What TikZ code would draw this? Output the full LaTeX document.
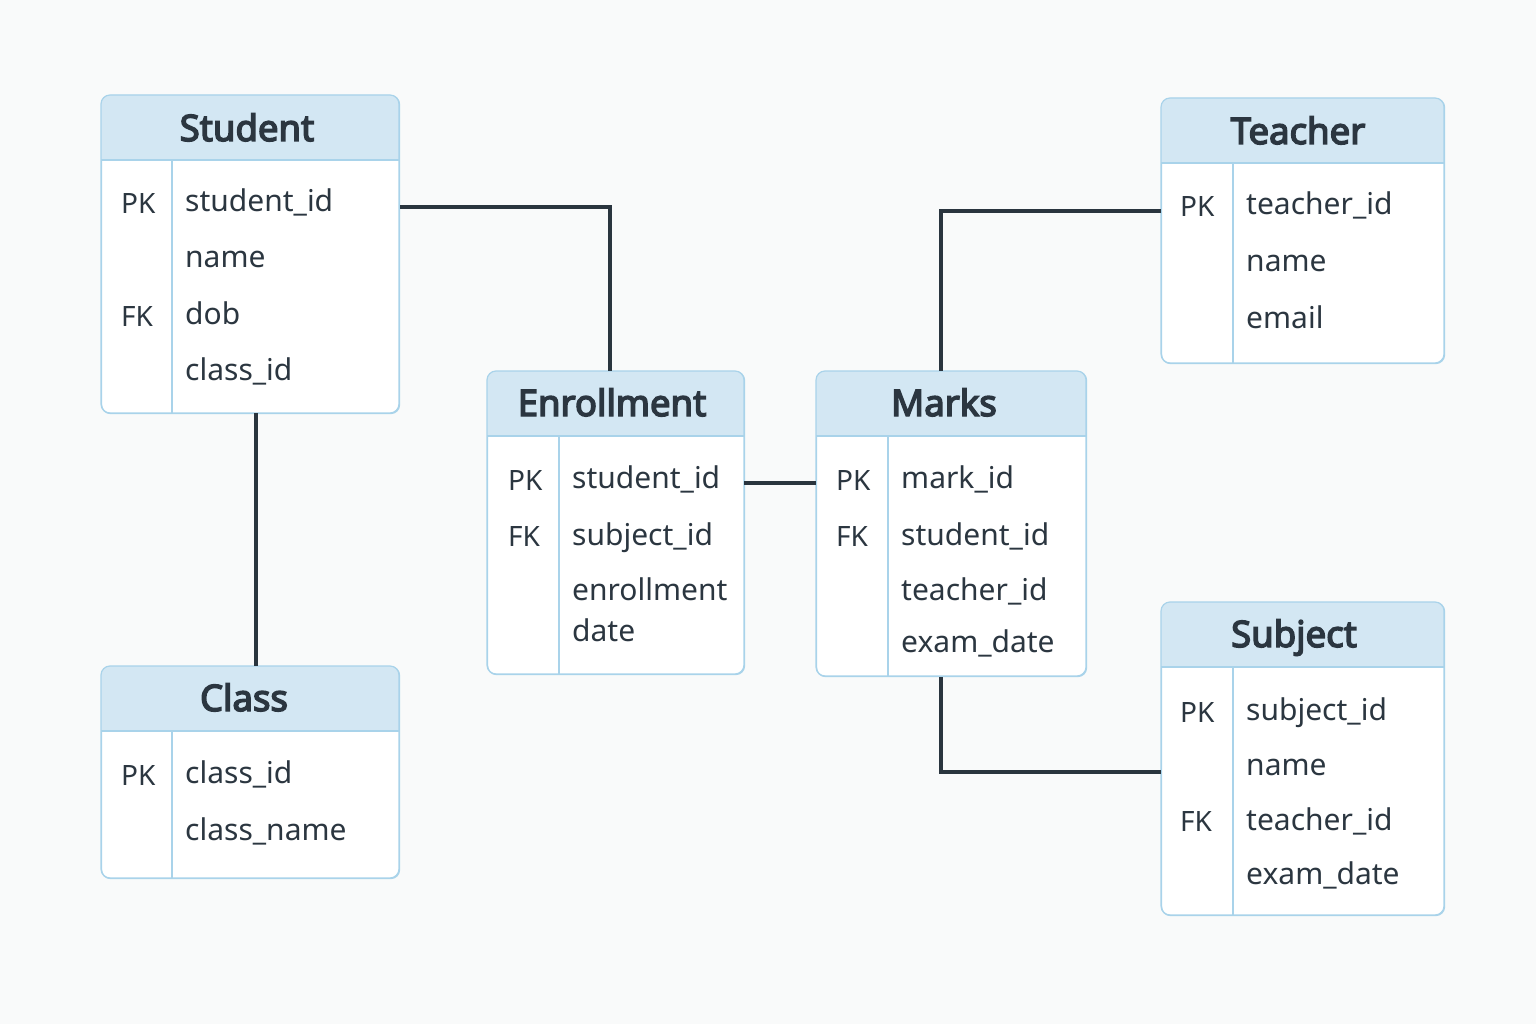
\documentclass[tikz,border=0pt]{standalone}
\usepackage{fontspec}
\setmainfont{Noto Sans}
\newfontfamily\ttlfont{Noto Sans}[FakeBold=4]
\definecolor{bgcol}{HTML}{F9FAFA}
\definecolor{headcol}{HTML}{D3E7F3}
\definecolor{bordercol}{HTML}{A9D3EA}
\definecolor{txt}{HTML}{2B3640}
\definecolor{linecol}{HTML}{2A353E}
\tikzset{
  tbl/.style={draw=bordercol, line width=1.2pt, fill=white, rounded corners=9pt, inner sep=0pt, anchor=north west},
  ttl/.style={font=\fontsize{36.5}{42}\ttlfont, text=txt, inner sep=0pt, anchor=base},
  keytxt/.style={font=\fontsize{28}{34}\selectfont, text=txt, anchor=base west, inner sep=0pt},
  fld/.style={font=\fontsize{30}{36}\selectfont, text=txt, anchor=base west, inner sep=0pt},
  conn/.style={draw=linecol, line width=3.2pt},
  sep/.style={draw=bordercol, line width=1.2pt},
}
% #1 name, #2 x1, #3 y1, #4 x2, #5 y2, #6 divider x
\newcommand{\erdbox}[6]{%
  \node[tbl, minimum width=#4pt-#2pt, minimum height=#5pt-#3pt] (#1) at (#2,#3) {};
  \begin{scope}
    \clip[rounded corners=9pt] (#2,#3) rectangle (#4,#5);
    \fill[headcol] (#2,#3) rectangle (#4,#3+65);
  \end{scope}
  \draw[bordercol, line width=1.2pt, rounded corners=9pt] (#2,#3) rectangle (#4,#5);
  \draw[sep] (#2,#3+65) -- (#4,#3+65);
  \draw[sep] (#6,#3+65) -- (#6,#5);
}
\begin{document}
\begin{tikzpicture}[x=1pt, y=-1pt]
\useasboundingbox (0,0) rectangle (1536,1024);
\fill[bgcol] (0,0) rectangle (1536,1024);

% Student
\erdbox{student}{101}{95}{399}{413}{172}
\node[ttl] (studentT) at (247,141) {Student};
\node[keytxt] (studentK1) at (121,214) {PK};
\node[keytxt] (studentK3) at (121,326) {FK};
\node[fld] (studentF1) at (185,212) {student\_id};
\node[fld] (studentF2) at (185,268) {name};
\node[fld] (studentF3) at (185,324) {dob};
\node[fld] (studentF4) at (185,380) {class\_id};

% Class
\erdbox{class}{101}{666}{399}{878}{172}
\node[ttl] (classT) at (244,711) {Class};
\node[keytxt] (classK1) at (121,785) {PK};
\node[fld] (classF1) at (185,783) {class\_id};
\node[fld] (classF2) at (185,840) {class\_name};

% Enrollment
\erdbox{enroll}{487}{371}{744}{674}{559}
\node[ttl] (enrollT) at (612,416) {Enrollment};
\node[keytxt] (enrollK1) at (508,490) {PK};
\node[keytxt] (enrollK2) at (508,546) {FK};
\node[fld] (enrollF1) at (572,488) {student\_id};
\node[fld] (enrollF2) at (572,545) {subject\_id};
\node[fld] (enrollF3) at (572,600) {enrollment};
\node[fld] (enrollF4) at (572,641) {date};

% Marks
\erdbox{marks}{816}{371}{1086}{676}{888}
\node[ttl] (marksT) at (944,416) {Marks};
\node[keytxt] (marksK1) at (836,490) {PK};
\node[keytxt] (marksK2) at (836,546) {FK};
\node[fld] (marksF1) at (901,488) {mark\_id};
\node[fld] (marksF2) at (901,545) {student\_id};
\node[fld] (marksF3) at (901,600) {teacher\_id};
\node[fld] (marksF4) at (901,652) {exam\_date};

% Teacher
\erdbox{teacher}{1161}{98}{1444}{363}{1233}
\node[ttl] (teacherT) at (1298,144) {Teacher};
\node[keytxt] (teacherK1) at (1180,217) {PK};
\node[fld] (teacherF1) at (1246,215) {teacher\_id};
\node[fld] (teacherF2) at (1246,272) {name};
\node[fld] (teacherF3) at (1246,328) {email};

% Subject
\erdbox{subject}{1161}{602}{1444}{915}{1233}
\node[ttl] (subjectT) at (1294,647) {Subject};
\node[keytxt] (subjectK1) at (1180,722) {PK};
\node[keytxt] (subjectK3) at (1180,831) {FK};
\node[fld] (subjectF1) at (1246,720) {subject\_id};
\node[fld] (subjectF2) at (1246,775) {name};
\node[fld] (subjectF3) at (1246,830) {teacher\_id};
\node[fld] (subjectF4) at (1246,884) {exam\_date};

% connectors
\coordinate (c1) at (610,207);
\coordinate (c2) at (941,211);
\coordinate (c3) at (941,772);
\draw[conn] (student.north east |- c1) -- (c1) -- (c1 |- enroll.north);
\draw[conn] (256,413) -- (256,666);
\draw[conn] (744,483) -- (816,483);
\draw[conn] (teacher.north west |- c2) -- (c2) -- (c2 |- marks.north);
\draw[conn] (c3 |- marks.south) -- (c3) -- (subject.north west |- c3);
\end{tikzpicture}
\end{document}
